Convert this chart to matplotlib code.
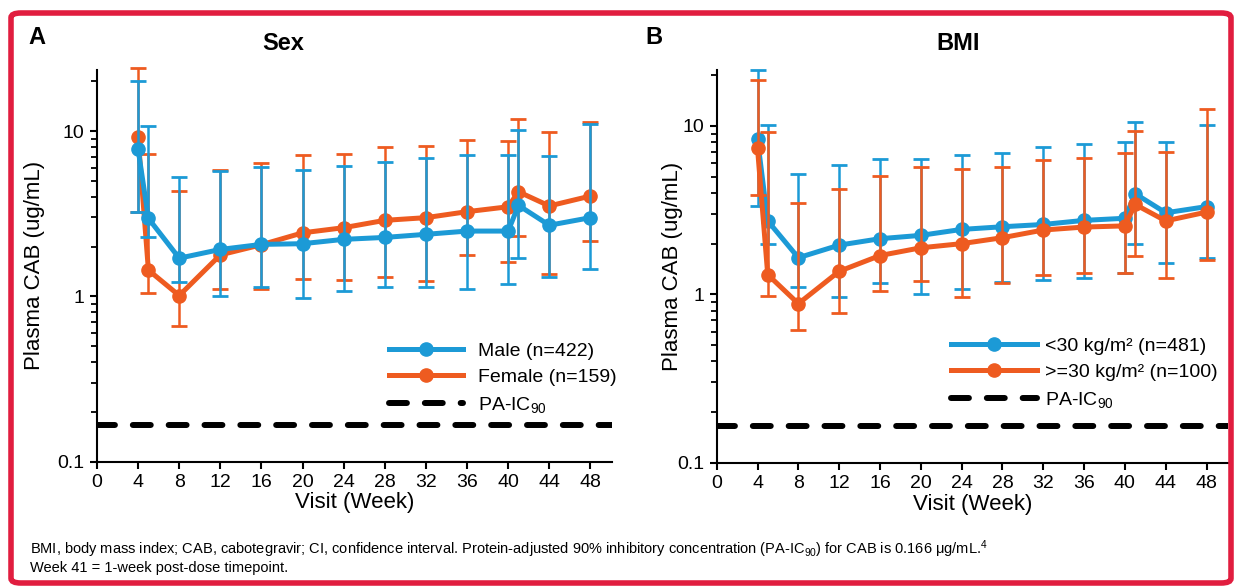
"""
CAB 血浆浓度随访视图：按性别 (A) 与 BMI (B) 分组
"""

import matplotlib

matplotlib.use("Agg")
import matplotlib.pyplot as plt
from matplotlib.lines import Line2D
from matplotlib.patches import FancyBboxPatch
from matplotlib.ticker import FixedLocator, LogLocator, NullFormatter

plt.rcParams["font.family"] = ["Liberation Sans", "DejaVu Sans"]
plt.rcParams["mathtext.fontset"] = "custom"
plt.rcParams["mathtext.rm"] = "Liberation Sans"
plt.rcParams["mathtext.it"] = "Liberation Sans:italic"
plt.rcParams["mathtext.bf"] = "Liberation Sans:bold"

BLUE = "#1c9ad6"
ORANGE = "#ee5b20"
BORDER_RED = "#e11d3f"
THRESHOLD_STYLE = dict(color="black", linewidth=4.3, linestyle=(0, (3, 3)), dash_capstyle="round")
SERIES_STYLE = dict(linewidth=3.6, marker="o", markersize=9.5)

# ---- 数据 ----
weeks = [4, 5, 8, 12, 16, 20, 24, 28, 32, 36, 40, 41, 44, 48]
x_ticks = list(range(0, 49, 4))
pa_ic90 = 0.166

male_mean = [7.75, 2.96, 1.70, 1.92, 2.06, 2.08, 2.21, 2.27, 2.37, 2.48, 2.48, 3.55, 2.69, 2.99]
male_upper = [20.0, 10.7, 5.27, 5.73, 6.06, 5.81, 6.14, 6.5, 6.9, 7.13, 7.15, 10.1, 7.06, 11.0]
male_lower = [3.25, 2.29, 1.22, 1.00, 1.13, 0.97, 1.08, 1.13, 1.14, 1.11, 1.18, 1.71, 1.31, 1.47]

female_mean = [9.2, 1.44, 1.01, 1.78, 2.05, 2.42, 2.60, 2.88, 2.99, 3.25, 3.48, 4.29, 3.52, 4.04]
female_upper = [23.9, 7.29, 4.33, 5.78, 6.38, 7.13, 7.29, 8.0, 8.08, 8.83, 8.7, 11.8, 9.9, 11.3]
female_lower = [3.25, 1.05, 0.66, 1.11, 1.11, 1.28, 1.25, 1.31, 1.24, 1.77, 1.61, 2.33, 1.37, 2.16]

bmi_low_mean = [8.34, 2.73, 1.65, 1.96, 2.14, 2.24, 2.43, 2.52, 2.60, 2.75, 2.83, 3.96, 3.05, 3.32]
bmi_low_upper = [21.5, 10.1, 5.21, 5.84, 6.34, 6.39, 6.7, 6.88, 7.5, 7.78, 8.07, 10.5, 8.07, 10.2]
bmi_low_lower = [3.35, 2.0, 1.10, 0.96, 1.16, 1.01, 1.08, 1.19, 1.22, 1.25, 1.33, 2.0, 1.53, 1.65]

bmi_high_mean = [7.37, 1.31, 0.88, 1.37, 1.70, 1.89, 2.0, 2.17, 2.41, 2.51, 2.55, 3.42, 2.73, 3.08]
bmi_high_upper = [18.8, 9.2, 3.5, 4.24, 5.05, 5.7, 5.53, 5.73, 6.25, 6.48, 6.88, 9.34, 7.0, 12.6]
bmi_high_lower = [3.88, 0.98, 0.61, 0.77, 1.05, 1.20, 0.96, 1.16, 1.31, 1.34, 1.34, 1.69, 1.25, 1.6]

sex_labels = ["Male (n=422)", "Female (n=159)"]
bmi_labels = ["<30 kg/m\u00b2 (n=481)", ">=30 kg/m\u00b2 (n=100)"]
threshold_label = "PA-IC$_{90}$"

footnote_lines = [
    "BMI, body mass index; CAB, cabotegravir; CI, confidence interval. Protein-adjusted 90% "
    "inhibitory concentration (PA-IC$_{90}$) for CAB is 0.166 \u03bcg/mL.$^{4}$",
    "Week 41 = 1-week post-dose timepoint.",
]


def draw_series(axis, mean, lower, upper, color, zorder):
    """画一条带误差棒的折线"""
    yerr = [
        [m - lo for m, lo in zip(mean, lower)],
        [up - m for m, up in zip(mean, upper)],
    ]
    container = axis.errorbar(
        weeks,
        mean,
        yerr=yerr,
        color=color,
        ecolor=color,
        elinewidth=1.8,
        capsize=6,
        capthick=2.0,
        zorder=zorder,
        **SERIES_STYLE,
    )
    for artist in list(container.lines[1]) + list(container.lines[2]):
        artist.set_clip_on(False)


def style_axis(axis, ymax, ylabel_x):
    axis.set_yscale("log")
    axis.set_xlim(0, 50.1)
    axis.set_ylim(0.1, ymax)
    axis.spines["top"].set_visible(False)
    axis.spines["right"].set_visible(False)
    for side in ("left", "bottom"):
        axis.spines[side].set_linewidth(1.5)
    axis.xaxis.set_major_locator(FixedLocator(x_ticks))
    axis.yaxis.set_major_locator(FixedLocator([0.1, 1, 10]))
    axis.set_yticklabels(["0.1", "1", "10"])
    axis.yaxis.set_minor_locator(LogLocator(base=10, subs=range(2, 10)))
    axis.yaxis.set_minor_formatter(NullFormatter())
    axis.tick_params(axis="both", which="major", direction="out", length=5, width=1.5,
                     labelsize=14, pad=4)
    axis.tick_params(axis="y", which="minor", direction="out", length=4, width=1.3)
    axis.set_xlabel("Visit (Week)", fontsize=16, labelpad=1)
    axis.set_ylabel("Plasma CAB (ug/mL)", fontsize=16)
    axis.yaxis.set_label_coords(ylabel_x, 0.5)
    axis.axhline(pa_ic90, zorder=1, **THRESHOLD_STYLE)


def add_legend(axis, labels, anchor, handlelength, handletextpad):
    handles = [
        Line2D([], [], color=BLUE, **SERIES_STYLE),
        Line2D([], [], color=ORANGE, **SERIES_STYLE),
        Line2D([], [], **THRESHOLD_STYLE),
    ]
    axis.legend(
        handles,
        labels + [threshold_label],
        loc="upper left",
        bbox_to_anchor=anchor,
        frameon=False,
        fontsize=14,
        handlelength=handlelength,
        handletextpad=handletextpad,
        labelspacing=0.45,
        borderaxespad=0,
        borderpad=0,
    )


figure = plt.figure(figsize=(12.35, 5.87), dpi=100)
W, H = 1235, 587

axis_a = figure.add_axes([97 / W, 1 - 461.5 / H, (612 - 97) / W, (461.5 - 70) / H])
axis_b = figure.add_axes([716.7 / W, 1 - 462.7 / H, (1228 - 716.7) / W, (462.7 - 70) / H])

# A: 性别（蓝线在上）
draw_series(axis_a, female_mean, female_lower, female_upper, ORANGE, 3)
draw_series(axis_a, male_mean, male_lower, male_upper, BLUE, 4)
style_axis(axis_a, 23.4, -0.10)
add_legend(axis_a, sex_labels, ((389 - 97) / 515, 1 - (342 - 70) / 391.5), 3.8, 0.8)

# B: BMI（橙线在上）
draw_series(axis_b, bmi_low_mean, bmi_low_lower, bmi_low_upper, BLUE, 3)
draw_series(axis_b, bmi_high_mean, bmi_high_lower, bmi_high_upper, ORANGE, 4)
style_axis(axis_b, 21.5, -0.065)
add_legend(axis_b, bmi_labels, ((951 - 716.7) / 511.3, 1 - (337 - 70) / 392.7), 4.4, 0.45)

# 面板标签与标题
figure.text(28 / W, 1 - 38 / H, "A", fontsize=17, fontweight="bold", va="center")
figure.text(283 / W, 1 - 44 / H, "Sex", fontsize=17, fontweight="bold", va="center", ha="center")
figure.text(645 / W, 1 - 38 / H, "B", fontsize=17, fontweight="bold", va="center")
figure.text(958 / W, 1 - 44 / H, "BMI", fontsize=17, fontweight="bold", va="center", ha="center")

# 脚注
for index, line in enumerate(footnote_lines):
    figure.text(30 / W, 1 - (549 + 19 * index) / H, line, fontsize=10.5, va="center")

# 红色圆角边框
border = FancyBboxPatch(
    (11 / W, 4 / H),
    (1231 - 11) / W,
    (574 - 4) / H,
    boxstyle="round,pad=0,rounding_size=0.008",
    transform=figure.transFigure,
    facecolor="none",
    edgecolor=BORDER_RED,
    linewidth=4,
)
figure.patches.append(border)

figure.savefig("out.png", dpi=100, facecolor="white")
plt.close(figure)
